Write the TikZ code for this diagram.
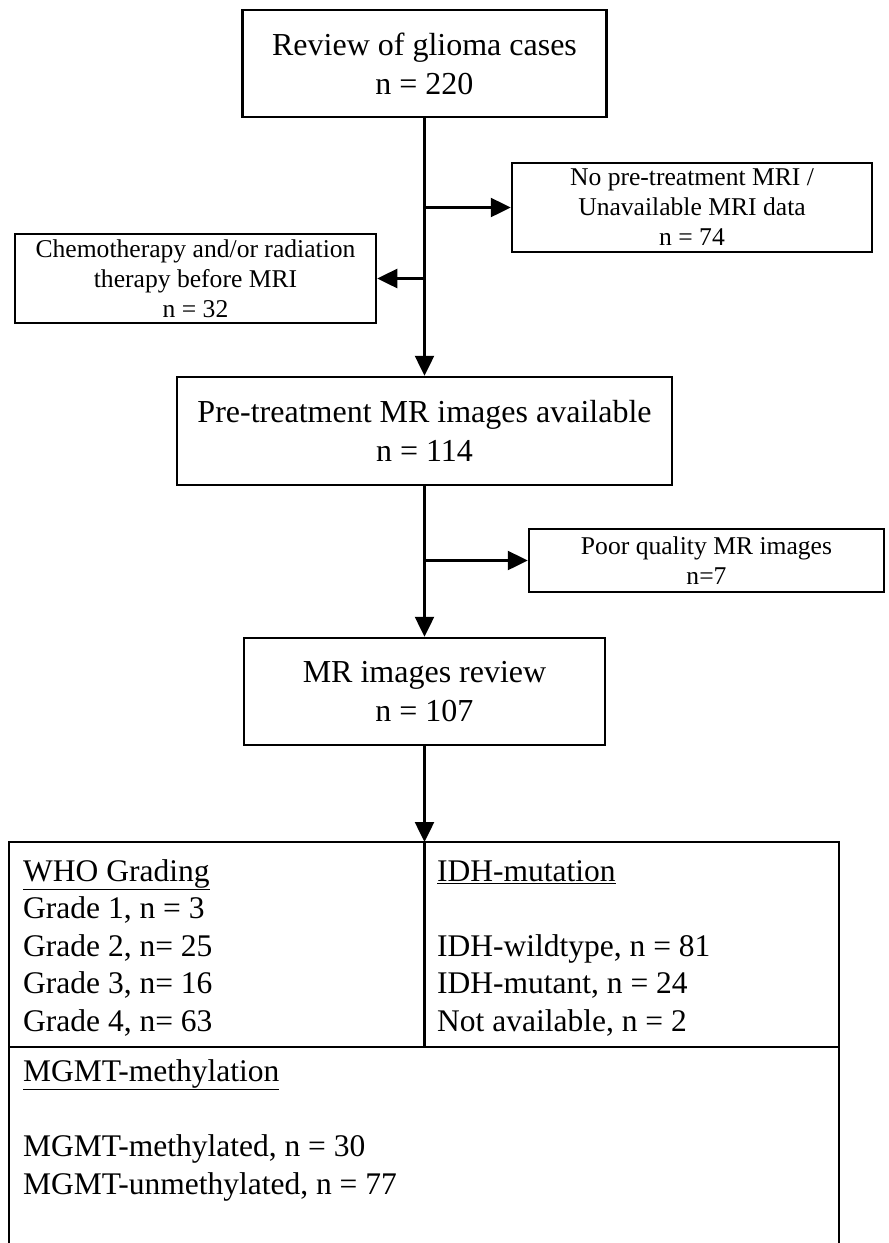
\documentclass[tikz,border=0pt]{standalone}
\usepackage{fontspec}
\setmainfont{Liberation Serif}
\usetikzlibrary{positioning, arrows.meta}

\begin{document}
\begin{tikzpicture}[x=1pt, y=-1pt,
    box/.style={draw, line width=2.5pt, align=center, inner sep=0pt},
    big/.style={font=\fontsize{32}{39}\selectfont},
    small/.style={font=\fontsize{25.6}{30}\selectfont},
    arr/.style={-{Triangle[length=20pt, width=19pt]}, line width=2.5pt},
    cell/.style={anchor=base west, inner sep=0pt, font=\fontsize{31.5}{37}\selectfont}]

    \useasboundingbox (0,0) rectangle (889,1243);

    \node[box, big, minimum width=364pt, minimum height=107pt] (review) at (424.5,63.5) {Review of glioma cases\\n = 220};

    \node[box, small, minimum width=360pt, minimum height=89pt] (nomri) at (692,207.5) {No pre-treatment MRI /\\Unavailable MRI data\\n = 74};

    \node[box, small, minimum width=361pt, minimum height=89pt] (chemo) at (195.5,278.5) {Chemotherapy and/or radiation\\therapy before MRI\\n = 32};

    \node[box, big, minimum width=495pt, minimum height=108pt] (pretx) at (424.5,431) {Pre-treatment MR images available\\n = 114};

    \node[box, small, minimum width=355pt, minimum height=63pt] (poor) at (706.5,560.5) {Poor quality MR images\\n=7};

    \node[box, big, minimum width=361pt, minimum height=107pt] (mrrev) at (424.5,691.5) {MR images review\\n = 107};

    % branch points on the main line
    \coordinate (b1) at (424.5,207.5);
    \coordinate (b2) at (424.5,278.5);
    \coordinate (b3) at (424.5,560.5);
    \coordinate (tabtop) at (424.5,842);

    \draw[arr] (review) -- (pretx);
    \draw[arr] (b1) -- (nomri);
    \draw[arr] (b2) -- (chemo);
    \draw[arr] (pretx) -- (mrrev);
    \draw[arr] (b3) -- (poor);
    \draw[arr] (mrrev) -- (tabtop);

    % result table
    \draw[line width=2.5pt] (9,1243) -- (9,842) -- (839,842) -- (839,1243);
    \draw[line width=2.5pt] (9,1047) -- (839,1047);
    \draw[line width=2.5pt] (tabtop) -- (424.5,1047);

    \node[cell] (who) at (23,881) {\underline{WHO Grading}};
    \node[cell] (g1) at (23,918) {Grade 1, n = 3};
    \node[cell] (g2) at (23,956) {Grade 2, n= 25};
    \node[cell] (g3) at (23,993) {Grade 3, n= 16};
    \node[cell] (g4) at (23,1031) {Grade 4, n= 63};

    \node[cell] (idh) at (437,881) {\underline{IDH-mutation}};
    \node[cell] (idhw) at (437,956) {IDH-wildtype, n = 81};
    \node[cell] (idhm) at (437,993) {IDH-mutant, n = 24};
    \node[cell] (idhna) at (437,1031) {Not available, n = 2};

    \node[cell] (mgmt) at (23,1081) {\underline{MGMT-methylation}};
    \node[cell] (mgmtm) at (23,1156) {MGMT-methylated, n = 30};
    \node[cell] (mgmtu) at (23,1194) {MGMT-unmethylated, n = 77};

\end{tikzpicture}
\end{document}
